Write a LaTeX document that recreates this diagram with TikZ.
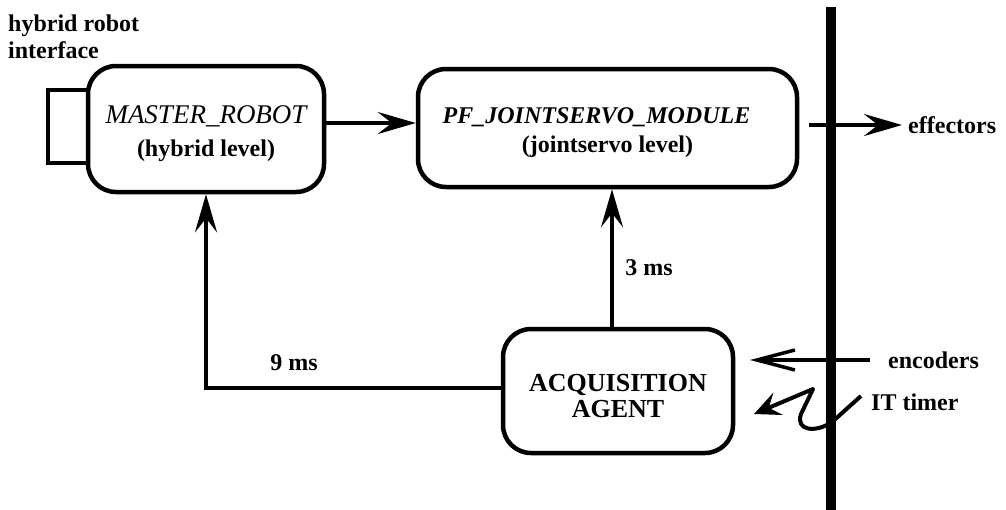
\documentclass[tikz,border=0pt]{standalone}
\usepackage{fontspec}
\setmainfont{LiberationSerif}[Extension=.ttf, UprightFont=*-Regular, BoldFont=*-Bold,
  ItalicFont=*-Italic, BoldItalicFont=*-BoldItalic]
\usetikzlibrary{arrows.meta}
\newcommand\toppad[1]{\rule{0pt}{#1}}
\tikzset{
  module/.style={draw, line width=4.5pt, rounded corners=28pt, align=center,
    inner sep=0pt, font=\fontsize{24}{31}\selectfont\bfseries},
  port/.style={draw, line width=4.5pt, fill=white, inner sep=0pt},
  lbl/.style={font=\fontsize{24}{27}\selectfont\bfseries, inner sep=0pt},
  link/.style={line width=4pt, -{Stealth[length=38pt,width=22pt,inset=14pt]}},
  barb/.style={line width=4pt, -{Straight Barb[length=38pt,width=20pt,line width=3.5pt]}},
  bus/.style={line width=10pt}
}
\begin{document}
\begin{tikzpicture}[x=1pt,y=-1pt]
\useasboundingbox (0,0) rectangle (1006,509);

% hardware bus
\coordinate (bartop) at (831,7);
\coordinate (barbot) at (831,515);
\draw[bus] (bartop) -- (barbot);

% interface port and modules
\node[port, minimum width=40pt, minimum height=73pt] (iface) at (68,126.5) {};
\node[module, fill=white, minimum width=236pt, minimum height=126pt,
  font=\fontsize{24}{33}\selectfont\bfseries] (master) at (206,129)
  {{\mdseries\itshape\fontsize{27}{33}\selectfont\toppad{27pt}MASTER\_ROBOT}\\(hybrid level)};
\node[module, minimum width=379pt, minimum height=118pt,
  font=\fontsize{24}{29}\selectfont\bfseries] (pf) at (607.5,128)
  {{\itshape\fontsize{24}{29}\selectfont\toppad{26pt}PF\_JOINTSERVO\_MODULE\hspace*{22pt}}\\(jointservo level)};
\node[module, minimum width=230pt, minimum height=124pt,
  font=\fontsize{26}{26}\selectfont\bfseries] (acq) at (618,391) {\toppad{27pt}ACQUISITION\\AGENT};

% labels
\node[lbl, anchor=west, align=left] (hri) at (8,37) {hybrid robot\\interface};
\node[lbl, anchor=west] (eff) at (908,125) {effectors};
\node[lbl, anchor=west] (enc) at (888,360) {encoders};
\node[lbl, anchor=west] (itt) at (871,402) {IT timer};
\node[lbl] (t9) at (294,363) {9 ms};
\node[lbl] (t3) at (649,268) {3 ms};

% data flow
\draw[link] ([yshift=6pt]master.east) -- ([yshift=6pt]master.east -| pf.west);
\draw[link] ([xshift=10pt,yshift=3pt]pf.east) -- ([xshift=-6pt,yshift=3pt]pf.east -| eff.west);
\draw[link] ([xshift=-6pt]acq.north) -- ([xshift=-6pt]acq.north |- pf.south);
\draw[link] ([yshift=3pt]acq.west) -| (master.south);

% inputs
\coordinate (encsrc) at (870,360);
\coordinate (enctip) at (750,360);
\draw[barb] (encsrc) -- (enctip);

\coordinate (itsrc) at (861,396);
\coordinate (ittip) at (754,414);
\draw[line width=4pt, line join=round, -{Stealth[length=26pt,width=24pt,inset=10pt]}]
  (itsrc) -- (832,422) .. controls (816,433) and (795,431) .. (801,414)
  -- (813,389) -- (ittip);
\end{tikzpicture}
\end{document}
